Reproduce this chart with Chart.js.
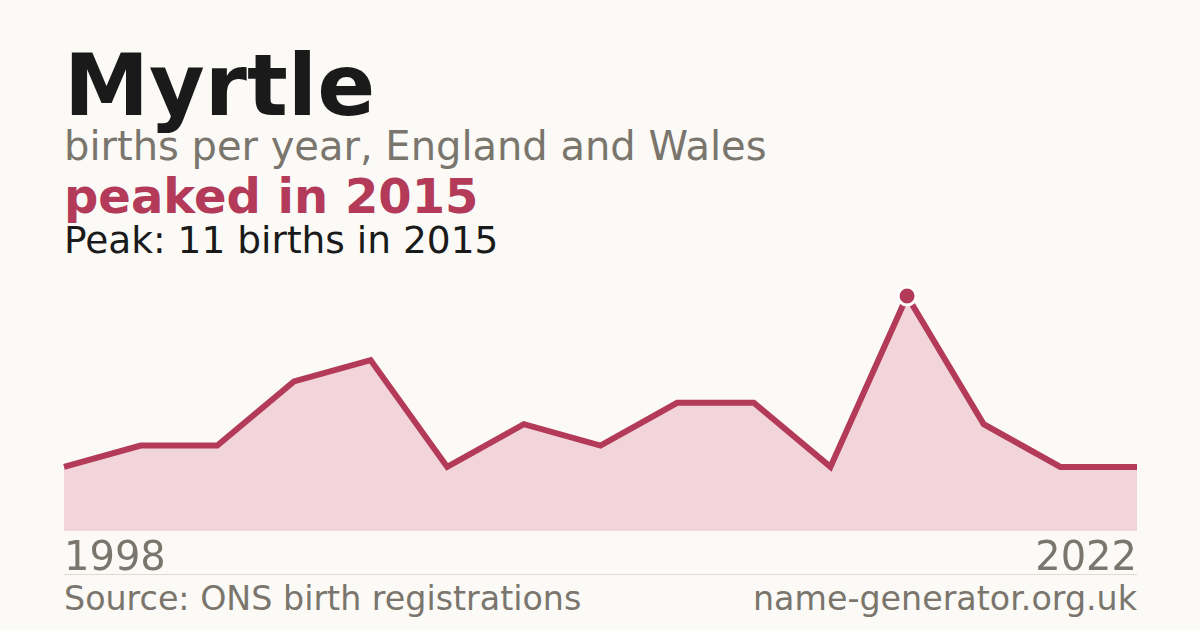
<!DOCTYPE html>
<html>
<head>
<meta charset="utf-8">
<script src="https://cdn.jsdelivr.net/npm/chart.js@4.4.1/dist/chart.umd.min.js"></script>
<style>
	html, body {
		margin: 0;
		padding: 0;
		width: 1200px;
		height: 630px;
		background: #fbfaf6;
		overflow: hidden;
		font-family: "DejaVu Sans", sans-serif;
	}
	.txt {
		position: absolute;
		left: 64px;
		line-height: 1;
		white-space: nowrap;
	}
	#title { top: 43px; font-size: 85.5px; font-weight: bold; color: #1a1a1a; }
	#subtitle { top: 126px; font-size: 40px; color: #7a756d; }
	#headline { top: 172px; font-size: 48px; font-weight: bold; color: #b33a59; }
	#peak { top: 222px; font-size: 37.5px; color: #1a1a1a; }
	#source { top: 582px; font-size: 33.3px; color: #7a756d; }
	#site { top: 582px; left: auto; right: 63px; font-size: 33.3px; color: #7a756d; }
	#rule {
		position: absolute;
		left: 64px;
		top: 574px;
		width: 1073px;
		height: 1px;
		background: #dedad2;
	}
	#wrap {
		position: absolute;
		left: 59px;
		top: 260px;
		width: 1083px;
		height: 329px;
	}
</style>
</head>
<body>

<div id="title" class="txt">Myrtle</div>
<div id="subtitle" class="txt">births per year, England and Wales</div>
<div id="headline" class="txt">peaked in 2015</div>
<div id="peak" class="txt">Peak: 11 births in 2015</div>
<div id="rule"></div>
<div id="source" class="txt">Source: ONS birth registrations</div>
<div id="site" class="txt">name-generator.org.uk</div>

<div id="wrap"><canvas id="namesChart"></canvas></div>

<script>
const years = [
	"1998", "2000", "2002", "2003", "2005", "2006", "2008", "2009",
	"2011", "2012", "2014", "2015", "2017", "2020", "2022"
];
const births = [3, 4, 4, 7, 8, 3, 5, 4, 6, 6, 3, 11, 5, 3, 3];

const lineColor = "#b33a59";
const fillColor = "#f2d5da";
const mutedText = "#7a756d";

const peakIndex = births.indexOf(Math.max(...births));

new Chart(document.getElementById("namesChart"), {
	type: "line",

	data: {
		labels: years,

		datasets: [{
			data: births,

			borderColor: lineColor,
			backgroundColor: fillColor,
			fill: "origin",
			tension: 0,
			borderWidth: 6,
			clip: false,

			pointRadius: (ctx) => (ctx.dataIndex === peakIndex ? 9 : 0),
			pointHoverRadius: 0,
			pointBackgroundColor: lineColor,
			pointBorderColor: "#ffffff",
			pointBorderWidth: 3
		}]
	},

	options: {
		responsive: true,
		maintainAspectRatio: false,
		animation: false,
		devicePixelRatio: 1,

		layout: {
			autoPadding: false,
			padding: { top: 36, left: 0, right: 0, bottom: 0 }
		},

		plugins: {
			legend: { display: false },
			tooltip: { enabled: false }
		},

		scales: {
			x: {
				offset: false,
				grid: { display: false, drawTicks: false },
				border: { display: false },
				ticks: {
					autoSkip: false,
					maxRotation: 0,
					align: "inner",
					padding: 5,
					color: mutedText,
					font: { family: "DejaVu Sans", size: 40 },
					callback: (value, index) =>
						(index === 0 || index === years.length - 1) ? years[index] : ""
				}
			},
			y: {
				display: false,
				min: 0,
				max: 11
			}
		}
	}
});
</script>
</body>
</html>
